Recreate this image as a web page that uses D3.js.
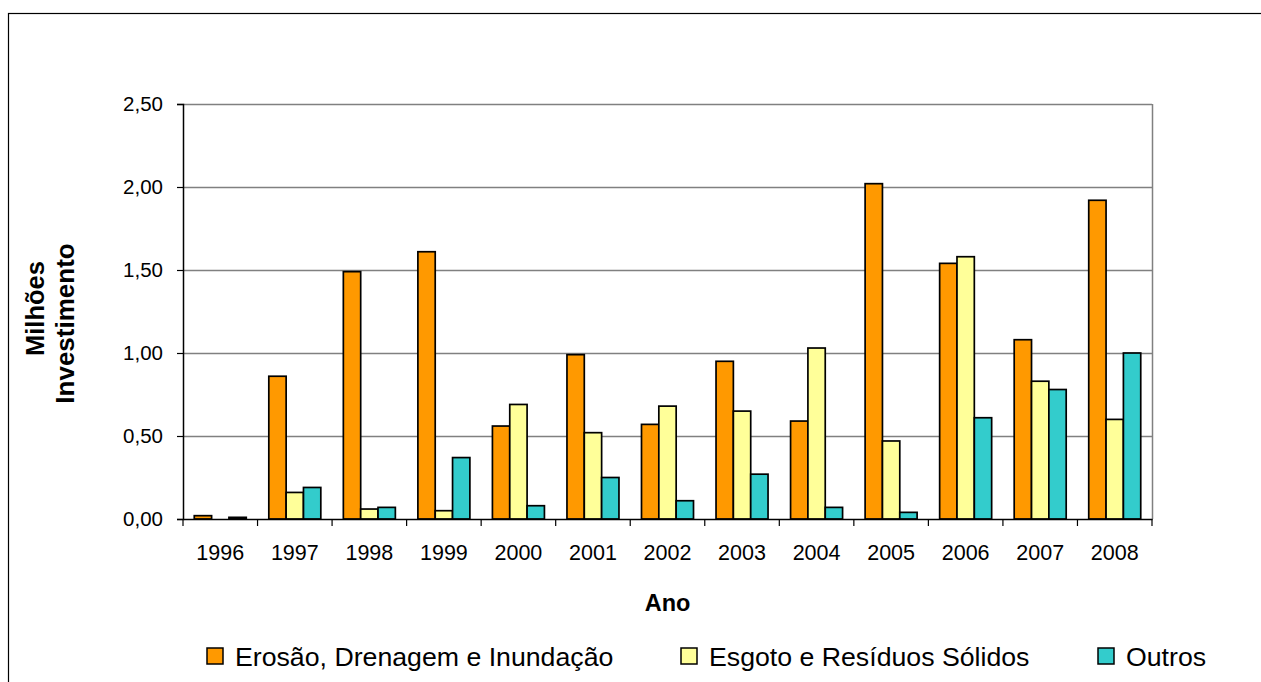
<!DOCTYPE html>
<html>
<head>
<meta charset="utf-8">
<script src="https://cdn.jsdelivr.net/npm/d3@7"></script>
<style>
  body { margin: 0; background: #fff; }
  svg { display: block; font-family: "Liberation Sans", Arial, sans-serif; }
</style>
</head>
<body>
<div id="chart"></div>
<script>
// Investment per year (millions)
const years = ['1996', '1997', '1998', '1999', '2000', '2001', '2002', '2003', '2004', '2005', '2006', '2007', '2008'];
const seriesNames = ['Erosão, Drenagem e Inundação', 'Esgoto e Resíduos Sólidos', 'Outros'];
const erosao = [0.02, 0.86, 1.49, 1.61, 0.56, 0.99, 0.57, 0.95, 0.59, 2.02, 1.54, 1.08, 1.92];
const esgoto = [0.00, 0.16, 0.06, 0.05, 0.69, 0.52, 0.68, 0.65, 1.03, 0.47, 1.58, 0.83, 0.60];
const outros = [0.01, 0.19, 0.07, 0.37, 0.08, 0.25, 0.11, 0.27, 0.07, 0.04, 0.61, 0.78, 1.00];
const yTicks = [0, 0.5, 1, 1.5, 2, 2.5];
const colors = ['#FF9900', '#FFFF99', '#33CCCC'];

const width = 1261;
const height = 682;
const margin = { left: 183, right: 109, top: 104, bottom: 163 };

const svg = d3.select('#chart').append('svg')
  .attr('width', width)
  .attr('height', height);

// outer chart frame (cut off on the right and bottom)
svg.append('rect')
  .attr('x', 8.5).attr('y', 13.5)
  .attr('width', 1400).attr('height', 800)
  .attr('fill', 'none')
  .attr('stroke', '#000')
  .attr('stroke-width', 1.2);

const x0 = d3.scaleBand()
  .domain(years)
  .range([margin.left, width - margin.right])
  .padding(0);

const x1 = d3.scaleBand()
  .domain(seriesNames)
  .range([0, x0.bandwidth()])
  .paddingInner(0)
  .paddingOuter(0.65);

const y = d3.scaleLinear()
  .domain([0, 2.5])
  .range([height - margin.bottom, margin.top]);

const fmt = d => d3.format('.2f')(d).replace('.', ',');

// gridlines
svg.append('g')
  .selectAll('line')
  .data(yTicks.filter(d => d > 0))
  .join('line')
  .attr('x1', margin.left)
  .attr('x2', width - margin.right)
  .attr('y1', d => Math.round(y(d)) + 0.5)
  .attr('y2', d => Math.round(y(d)) + 0.5)
  .attr('stroke', '#808080')
  .attr('stroke-width', 1.5);

// right plot border
svg.append('line')
  .attr('x1', width - margin.right + 0.5)
  .attr('x2', width - margin.right + 0.5)
  .attr('y1', y(2.5))
  .attr('y2', y(0))
  .attr('stroke', '#808080')
  .attr('stroke-width', 1.5);

// bars
const table = years.map((yr, i) => ({
  year: yr,
  values: [erosao[i], esgoto[i], outros[i]]
}));

svg.append('g')
  .selectAll('g')
  .data(table)
  .join('g')
  .attr('transform', d => `translate(${x0(d.year)},0)`)
  .selectAll('rect')
  .data(d => d.values.map((v, j) => ({ name: seriesNames[j], value: v, color: colors[j] })))
  .join('rect')
  .filter(d => d.value > 0)
  .attr('x', d => x1(d.name))
  .attr('y', d => y(d.value))
  .attr('width', x1.bandwidth())
  .attr('height', d => y(0) - y(d.value))
  .attr('fill', d => d.color)
  .attr('stroke', '#000')
  .attr('stroke-width', 1.7);

// y axis
const yAxis = d3.axisLeft(y)
  .tickValues(yTicks)
  .tickSize(6)
  .tickPadding(14)
  .tickFormat(fmt);

const gy = svg.append('g')
  .attr('transform', `translate(${margin.left},0)`)
  .call(yAxis);
gy.select('.domain').attr('stroke', '#000').attr('stroke-width', 1.5);
gy.selectAll('.tick line').attr('stroke', '#000').attr('stroke-width', 1.2);
gy.selectAll('.tick text')
  .attr('font-size', 20.5)
  .attr('font-family', '"Liberation Sans", Arial, sans-serif')
  .attr('fill', '#000');

// x axis
const xAxis = d3.axisBottom(x0)
  .tickSize(0)
  .tickPadding(26);

const gx = svg.append('g')
  .attr('transform', `translate(0,${y(0)})`)
  .call(xAxis);
gx.select('.domain').attr('stroke', '#000').attr('stroke-width', 1.5);
gx.selectAll('.tick text')
  .attr('font-size', 21.5)
  .attr('font-family', '"Liberation Sans", Arial, sans-serif')
  .attr('fill', '#000');

// category boundary ticks
gx.append('g')
  .selectAll('line')
  .data(years.concat(['end']))
  .join('line')
  .attr('x1', (d, i) => x0.range()[0] + i * x0.step())
  .attr('x2', (d, i) => x0.range()[0] + i * x0.step())
  .attr('y1', 0)
  .attr('y2', 7)
  .attr('stroke', '#000')
  .attr('stroke-width', 1.2);

// axis titles
svg.append('text')
  .attr('x', (margin.left + width - margin.right) / 2)
  .attr('y', 611)
  .attr('text-anchor', 'middle')
  .attr('font-size', 23.5)
  .attr('font-weight', 'bold')
  .text('Ano');

const yMid = (y(0) + y(2.5)) / 2;
svg.append('text')
  .attr('transform', `translate(44, ${yMid - 3}) rotate(-90)`)
  .attr('text-anchor', 'middle')
  .attr('font-size', 25.5)
  .attr('font-weight', 'bold')
  .text('Milhões');
svg.append('text')
  .attr('transform', `translate(74, ${yMid + 12}) rotate(-90)`)
  .attr('text-anchor', 'middle')
  .attr('font-size', 26)
  .attr('font-weight', 'bold')
  .text('Investimento');

// legend
const legendX = [207, 681, 1098];
const legend = svg.append('g')
  .selectAll('g')
  .data(seriesNames)
  .join('g')
  .attr('transform', (d, i) => `translate(${legendX[i]},648)`);

legend.append('rect')
  .attr('width', 16)
  .attr('height', 16)
  .attr('fill', (d, i) => colors[i])
  .attr('stroke', '#000')
  .attr('stroke-width', 1.5);

legend.append('text')
  .attr('x', 28)
  .attr('y', 18)
  .attr('font-size', 26.7)
  .text(d => d);
</script>
</body>
</html>
